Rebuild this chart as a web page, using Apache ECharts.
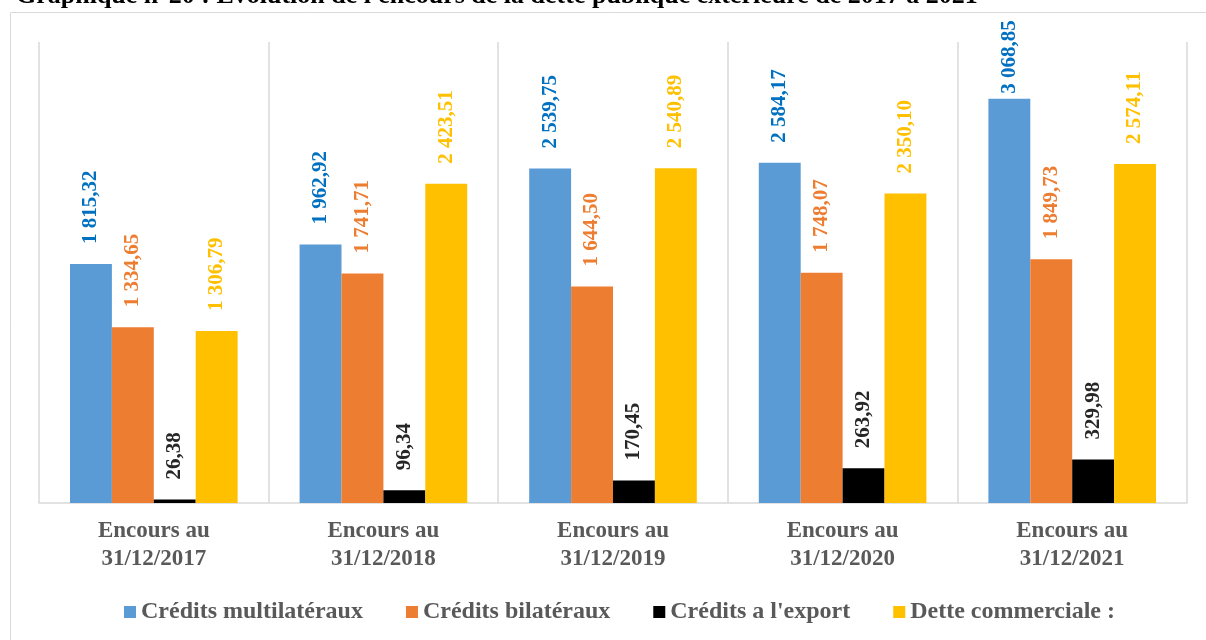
<!DOCTYPE html>
<html lang="fr">
  <head>
    <meta charset="UTF-8" />
    <title>Encours de la dette publique extérieure</title>
    <script src="https://cdn.jsdelivr.net/npm/echarts@6/dist/echarts.min.js"></script>
    <style>
      html, body { margin: 0; padding: 0; background: #fff; }
      #main { width: 1206px; height: 640px; }
    </style>
  </head>
  <body>
    <div id="main"></div>
    <script>
      var categories = [
        "Encours au\n31/12/2017",
        "Encours au\n31/12/2018",
        "Encours au\n31/12/2019",
        "Encours au\n31/12/2020",
        "Encours au\n31/12/2021"
      ];
      var multilateraux = [1815.32, 1962.92, 2539.75, 2584.17, 3068.85];
      var bilateraux = [1334.65, 1741.71, 1644.5, 1748.07, 1849.73];
      var export_ = [26.38, 96.34, 170.45, 263.92, 329.98];
      var commerciale = [1306.79, 2423.51, 2540.89, 2350.1, 2574.11];

      var font = "'Liberation Serif', 'Times New Roman', serif";

      // format français : 1 815,32
      function fr(v) {
        var parts = v.toFixed(2).split(".");
        var ent = parts[0].replace(/\B(?=(\d{3})+(?!\d))/g, " ");
        return ent + "," + parts[1];
      }

      function serie(name, data, color, labelColor) {
        return {
          name: name,
          type: "bar",
          barGap: "0%",
          barCategoryGap: "27%",
          itemStyle: { color: color },
          label: {
            show: true,
            position: "top",
            distance: 20,
            rotate: 90,
            align: "left",
            verticalAlign: "middle",
            color: labelColor,
            fontFamily: font,
            fontWeight: "bold",
            fontSize: 21,
            formatter: function (p) { return fr(p.value); }
          },
          // l'étiquette la plus haute est rapprochée de sa barre (comme dans Excel)
          data: data.map(function (v) {
            return v > 3000 ? { value: v, label: { distance: 5 } } : v;
          })
        };
      }

      var myChart = echarts.init(document.getElementById("main"));

      var option = {
        animation: false,
        title: {
          text: "Graphique n°20 : Evolution de l'encours de la dette publique extérieure de 2017 à 2021",
          left: 11,
          top: -22,
          textStyle: { fontFamily: font, fontWeight: "bold", fontSize: 26, color: "#000" }
        },
        graphic: [
          {
            type: "rect",
            shape: { x: 10.5, y: 12.5, width: 1300, height: 800 },
            style: { fill: "none", stroke: "#d9d9d9", lineWidth: 1 },
            silent: true
          }
        ],
        legend: {
          data: ["Crédits multilatéraux", "Crédits bilatéraux", "Crédits a l'export", "Dette commerciale :"],
          top: 595,
          left: 119,
          itemGap: 43,
          itemWidth: 12,
          itemHeight: 12,
          icon: "rect",
          textStyle: { fontFamily: font, fontWeight: "bold", fontSize: 24, color: "#595959" }
        },
        grid: { left: 39, right: 19, top: 42, bottom: 137 },
        xAxis: {
          type: "category",
          data: categories,
          axisLine: { lineStyle: { color: "#d9d9d9", width: 1.5 } },
          axisTick: { show: false },
          splitLine: { show: true, lineStyle: { color: "#d9d9d9", width: 1.5 } },
          axisLabel: {
            margin: 14,
            lineHeight: 28,
            fontFamily: font,
            fontWeight: "bold",
            fontSize: 23,
            color: "#595959"
          }
        },
        yAxis: {
          type: "value",
          min: 0,
          max: 3500,
          show: false,
          splitLine: { show: false }
        },
        series: [
          serie("Crédits multilatéraux", multilateraux, "#5b9bd5", "#0070c0"),
          serie("Crédits bilatéraux", bilateraux, "#ed7d31", "#ed7d31"),
          serie("Crédits a l'export", export_, "#000000", "#262626"),
          serie("Dette commerciale :", commerciale, "#ffc000", "#ffc000")
        ]
      };

      myChart.setOption(option);
    </script>
  </body>
</html>
